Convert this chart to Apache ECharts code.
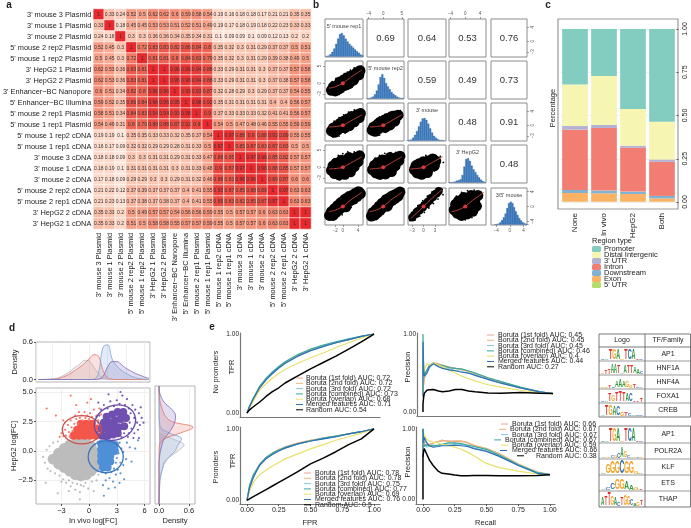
<!DOCTYPE html>
<html>
<head>
<meta charset="utf-8">
<title>Figure</title>
<script src="https://cdn.jsdelivr.net/npm/echarts@6/dist/echarts.min.js"></script>
<style>
  html, body { margin: 0; padding: 0; background: #fff; }
  #chart { width: 691px; height: 528px; }
</style>
</head>
<body>
<div id="chart"></div>
<script>
// ---- panel a: correlation matrix ----
var sampleNames = ["3' mouse 3 Plasmid", "3' mouse 1 Plasmid", "3' mouse 2 Plasmid", "5' mouse 2 rep2 Plasmid", "5' mouse 1 rep2 Plasmid",
  "3' HepG2 1 Plasmid", "3' HepG2 2 Plasmid", "3' Enhancer\u2212BC Nanopore", "5' Enhancer\u2212BC Illumina", "5' mouse 2 rep1 Plasmid",
  "5' mouse 1 rep1 Plasmid", "5' mouse 1 rep2 cDNA", "5' mouse 1 rep1 cDNA", "3' mouse 3 cDNA", "3' mouse 1 cDNA",
  "3' mouse 2 cDNA", "5' mouse 2 rep2 cDNA", "5' mouse 2 rep1 cDNA", "3' HepG2 2 cDNA", "3' HepG2 1 cDNA"];
var corrMatrix = [
  [1, .33, .24, .52, .5, .62, .62, .6, .59, .58, .54, .19, .16, .18, .18, .17, .21, .21, .35, .35],
  [.33, 1, .18, .45, .45, .53, .53, .51, .52, .51, .49, .19, .17, .18, .19, .18, .22, .23, .33, .33],
  [.24, .18, 1, .3, .3, .36, .36, .34, .35, .34, .31, .1, .09, .09, .1, .09, .12, .13, .2, .2],
  [.52, .45, .3, 1, .72, .83, .83, .82, .86, .84, .8, .35, .32, .3, .31, .29, .37, .37, .5, .51],
  [.5, .45, .3, .72, 1, .81, .81, .8, .84, .83, .79, .35, .32, .3, .31, .29, .39, .38, .49, .5],
  [.62, .53, .36, .83, .81, 1, 1, .96, .96, .94, .88, .33, .29, .31, .31, .3, .37, .37, .57, .58],
  [.62, .53, .36, .83, .81, 1, 1, .96, .96, .94, .88, .33, .29, .31, .31, .3, .37, .38, .57, .58],
  [.6, .51, .34, .82, .8, .96, .96, 1, .95, .93, .87, .32, .28, .29, .3, .29, .37, .37, .54, .55],
  [.59, .52, .35, .86, .84, .96, .96, .95, 1, .98, .92, .35, .31, .31, .31, .31, .4, .4, .56, .57],
  [.58, .51, .34, .84, .83, .94, .94, .93, .98, 1, .9, .37, .33, .33, .33, .32, .41, .41, .56, .57],
  [.54, .49, .31, .8, .79, .88, .88, .87, .92, .9, 1, .54, .5, .47, .48, .46, .55, .55, .59, .59],
  [.19, .19, .1, .35, .35, .33, .33, .32, .35, .37, .54, 1, .97, .88, .9, .88, .93, .89, .55, .55],
  [.16, .17, .09, .32, .32, .29, .29, .28, .31, .33, .5, .97, 1, .85, .87, .83, .87, .83, .5, .5],
  [.18, .18, .09, .3, .3, .31, .31, .29, .31, .33, .47, .88, .85, 1, .97, .96, .85, .82, .57, .57],
  [.18, .19, .1, .31, .31, .31, .31, .3, .31, .33, .48, .9, .87, .97, 1, .96, .88, .85, .57, .57],
  [.17, .18, .09, .29, .29, .3, .3, .29, .31, .32, .46, .88, .83, .96, .96, 1, .89, .87, .6, .6],
  [.21, .22, .12, .37, .39, .37, .37, .37, .4, .41, .55, .93, .87, .85, .88, .89, 1, .97, .63, .63],
  [.21, .23, .13, .37, .38, .37, .38, .37, .4, .41, .55, .89, .83, .82, .85, .87, .97, 1, .63, .63],
  [.35, .33, .2, .5, .49, .57, .57, .54, .56, .56, .59, .55, .5, .57, .57, .6, .63, .63, 1, 1],
  [.35, .33, .2, .51, .5, .58, .58, .55, .57, .57, .59, .55, .5, .57, .57, .6, .63, .63, 1, 1]
];

// ---- panel b: pair plot ----
var pairTitles = ["5' mouse rep1", "5' mouse rep2", "3' mouse", "3' HepG2", "3/5' mouse"];
var pairCorr = [[null, .69, .64, .53, .76], [null, null, .59, .49, .73], [null, null, null, .48, .91], [null, null, null, null, .48]];
var histBins = [-4.5, -4, -3.5, -3, -2.5, -2, -1.5, -1, -.5, 0, .5, 1, 1.5, 2, 2.5, 3, 3.5, 4, 4.5, 5];
var hist1 = [1, 2, 5, 10, 17, 27, 38, 48, 50, 45, 38, 32, 27, 23, 19, 15, 11, 8, 4, 2];
var hist2 = [0, 1, 2, 4, 9, 17, 30, 46, 52, 44, 33, 26, 20, 14, 10, 7, 4, 2, 1, 1];
var hist3 = [0, 1, 2, 6, 12, 20, 30, 40, 47, 48, 44, 36, 26, 17, 10, 6, 3, 1, 1, 0];
var hist4 = [0, 0, 1, 2, 4, 5, 7, 16, 34, 50, 52, 46, 36, 28, 22, 16, 11, 6, 3, 1];
var hist5 = [0, 1, 2, 5, 10, 16, 24, 36, 47, 50, 47, 38, 29, 21, 14, 9, 5, 3, 1, 0];

var p21Core = [[-3, -2], [-2.5, -1], [-2, -2.2], [-1.5, -.6], [-1, -1.6], [-.8, .4], [-.3, -.8], [0, 0], [.3, 1], [.5, -.6], [1, .4], [1.2, 1.6], [1.6, -.1], [2, 1], [2.3, 2.2], [2.8, .9], [3.2, 1.9], [3.6, 3], [4.2, 2.4], [4.5, 3.6]];
var p21Stray = [[-3.7, -2.6], [-3.4, -.4], [-2.8, .5], [-1.8, 1.4], [-.5, 2], [.4, 2.8], [1.2, 3.2], [2, 3.8], [3, 4.4], [4.9, 4.9], [4.9, 2], [3.5, .3], [2.5, -.8], [1.5, -1.6], [.2, -2.4], [-1, -3.2]];
var p31Core = [[-3, -1.6], [-2.5, -.8], [-2.2, -2], [-1.6, -.3], [-1.4, -1.4], [-.8, .5], [-.6, -.7], [0, 0], [.2, 1.2], [.5, -.7], [1, .5], [1.2, 1.8], [1.7, -.1], [2.1, 1.1], [2.3, 2.5], [3, 1], [3.2, 2.2], [3.8, 3], [4.3, 2.2], [4.6, 3.4]];
var p31Stray = [[-3.6, -1.8], [-3.2, .2], [-2.3, 1.2], [-1, 2.2], [.2, 3], [1.5, 3.8], [3, 4.4], [4.9, 4.6], [5, 1.5], [3.6, .2], [2.2, -1.2], [.6, -2.2], [-1, -3.1], [-2.6, -3.3]];
var p32Core = [[-3, -1.4], [-2.6, -.5], [-2.2, -1.7], [-1.7, .1], [-1.4, -1.1], [-.9, .9], [-.6, -.5], [0, .2], [.3, 1.5], [.5, -.6], [1, .7], [1.3, 2], [1.8, .1], [2.2, 1.3], [2.5, 2.6], [3.1, 1.2], [3.4, 2.3], [4, 2.9]];
var p32Stray = [[-3.6, -1.3], [-3.2, .2], [-2.2, 1.4], [-1, 2.4], [.4, 3.1], [1.6, 3.6], [3, 4], [4.6, 4.2], [4.8, 2], [3.6, .2], [2.2, -1], [.6, -2], [-1, -2.8]];
var p41Core = [[-3, -.9], [-2.6, .4], [-2.2, -1.8], [-1.8, 1.2], [-1.5, -.5], [-1, -2.2], [-.8, .7], [-.4, 2], [0, -.8], [.1, .5], [.5, -2], [.9, 1.5], [1, -.3], [1.6, 2.8], [1.8, .6], [2, -1.3], [2.6, 1.7], [3, .2], [3.4, 2.8], [4, 1.6], [4.4, 3.3]];
var p41Stray = [[-3.6, -.6], [-3.4, 1.3], [-2.3, 2.4], [-1.2, 3.4], [0, 3.9], [1.3, 4.4], [3, 4.4], [4.9, 4.5], [5, 1.8], [4, -.4], [2.8, -2], [1, -3.2], [-.8, -3.6], [-2.2, -3]];
var p42Core = [[-2.9, -.7], [-2.4, .5], [-2, -1.6], [-1.6, 1.3], [-1.4, -.4], [-.9, -2], [-.6, .8], [-.2, 2.1], [0, -.8], [.3, .6], [.6, -1.9], [1, 1.6], [1.2, -.2], [1.8, 2.8], [2, .7], [2.2, -1.2], [2.8, 1.8], [3.2, .4], [3.6, 2.8], [4.2, 1.9], [4.5, 3.2]];
var p42Stray = [[-3.6, -.4], [-3.2, 1.5], [-2.2, 2.6], [-1, 3.4], [.4, 4], [2, 4.2], [3.4, 4.3], [5.2, 4], [5.3, 2], [4.3, -.2], [3, -1.8], [1.2, -3], [-.8, -3.3], [-2, -2.8]];
var p43Core = [[-2.4, -.7], [-2, .5], [-1.7, -1.6], [-1.2, 1], [-1, -.5], [-.5, -2], [-.4, .3], [0, 1.6], [.3, -.7], [.6, .5], [1, -1.5], [1.2, 1.8], [1.5, 0], [2, 1], [2.4, 2.4], [2.8, .4], [3.2, 1.8]];
var p43Stray = [[-3, -1.2], [-2.8, .8], [-1.8, 1.8], [-.6, 2.8], [.6, 3.4], [1.8, 3.4], [3.2, 3.4], [4.4, 3.1], [5.2, 1.4], [4, .4], [2.8, -1], [1.4, -2.6], [-.2, -3], [-1.4, -2.8]];
var p51Core = [[-3.5, -2.4], [-3, -1.4], [-2.6, -2.4], [-2.2, -.6], [-1.8, -1.6], [-1.4, .2], [-1, -.8], [-.6, 1], [-.3, -.2], [.2, .8], [.5, 1.9], [.8, -.1], [1.2, 1.2], [1.5, 2.6], [2, 1.6], [2.4, 3], [2.8, 2], [3.2, 3.5], [3.7, 2.7], [4.1, 4], [4.6, 3.5]];
var p51Stray = [[-4, -3], [-3.6, -.8], [-2.8, .3], [-2, 1.2], [-1, 2.2], [.2, 3.2], [1.2, 3.9], [2.4, 4.3], [3.6, 4.6], [5, 4.5], [4.9, 2.2], [3.6, 1], [2.2, -.2], [1, -1.2], [-.2, -2.2], [-1.6, -3], [-3, -3.4]];
var p52Core = [[-3.2, -2.6], [-2.8, -1.6], [-2.3, -2.3], [-1.9, -.8], [-1.5, -1.6], [-1.1, .1], [-.7, -.8], [-.3, .9], [0, -.1], [.5, .8], [.8, 1.9], [1.1, .1], [1.5, 1.3], [1.9, 2.5], [2.3, 1.6], [2.7, 3], [3.1, 2.1], [3.6, 3.4], [4, 2.8], [4.5, 3.9]];
var p52Stray = [[-3.8, -3.1], [-3.4, -1], [-2.6, .1], [-1.6, 1.1], [-.6, 2.1], [.6, 3], [1.6, 3.8], [2.8, 4.3], [4, 4.5], [5.2, 4.4], [5.1, 2.6], [3.8, 1.3], [2.4, .1], [1.2, -1], [0, -2], [-1.2, -2.8], [-2.6, -3.5]];
var p53Core = [[-3, -3], [-2.5, -2.3], [-2, -2], [-1.6, -1.3], [-1.1, -1.1], [-.7, -.4], [-.2, -.3], [.2, .4], [.7, .6], [1.1, 1.3], [1.6, 1.6], [2, 2.3], [2.5, 2.6], [3, 3.3], [3.5, 3.6], [4, 4.2]];
var p53Stray = [[-3.6, -3.8], [-3.5, -2.4], [-2.6, -1], [-1.5, .2], [-.2, 1.6], [1, 2.8], [2.2, 3.9], [3.4, 4.6], [4.9, 4.6], [5.1, 3.2], [3.8, 2], [2.6, .8], [1.4, -.4], [.2, -1.6], [-1, -2.6], [-2.2, -3.6]];
var p54Core = [[-3, -.9], [-2.6, .6], [-2.2, -1.8], [-1.8, 1.5], [-1.5, -.4], [-1, -2.4], [-.8, .9], [-.4, 2.4], [0, -.7], [.1, .6], [.5, -2], [.9, 1.7], [1, -.3], [1.6, 3], [1.8, .6], [2, -1.3], [2.6, 1.8], [3, .1], [3.4, 3]];
var p54Stray = [[-3.7, -1.5], [-3.6, 1.2], [-2.4, 2.8], [-1, 3.8], [.6, 4.3], [2.4, 4.4], [3.6, 4], [4.4, 2.2], [4.2, .2], [3.2, -1.6], [1.8, -3], [0, -3.6], [-1.8, -3.2]];
var pairScatter = { '2,1': [p21Core, p21Stray], '3,1': [p31Core, p31Stray], '3,2': [p32Core, p32Stray], '4,1': [p41Core, p41Stray], '4,2': [p42Core, p42Stray],
  '4,3': [p43Core, p43Stray], '5,1': [p51Core, p51Stray], '5,2': [p52Core, p52Stray], '5,3': [p53Core, p53Stray], '5,4': [p54Core, p54Stray] };
var loessSteep = [[-3.7, -1.4], [-2, -1], [0, 0], [2, 1.7], [5, 3.8]];
var loessFlat = [[-3.6, -.5], [-1.5, -.3], [0, 0], [2, 1.2], [5, 3]];
var loessDiag = [[-3.4, -3.2], [-1.5, -1.5], [0, 0], [2, 2], [4.9, 4.6]];

// ---- panel c: region types ----
var groupNames = ['None', 'In vivo', 'HepG2', 'Both'];
var regionTypes = ['Promoter', 'Distal Intergenic', "3' UTR", 'Intron', 'Downstream', 'Exon', "5' UTR"];
var regionColors = ['#82cdc0', '#f6f5b2', '#b4b1d4', '#f27e73', '#80b2d4', '#fbb264', '#b3de69'];
var promoterShare = [.321, .271, .462, .536];
var distalShare = [.24, .284, .213, .218];
var utr3Share = [.021, .017, .012, .014];
var intronShare = [.348, .362, .253, .197];
var downstreamShare = [.018, .016, .014, .014];
var exonShare = [.05, .048, .044, .019];
var utr5Share = [.002, .002, .002, .002];
var regionShares = [promoterShare, distalShare, utr3Share, intronShare, downstreamShare, exonShare, utr5Share];

// ---- panel d: log fold changes ----
var grayCore = [[-3.9, -.7], [-3.3, -.2], [-3.3, -1.1], [-2.7, .2], [-2.7, -.6], [-2.7, -1.4], [-2.1, .5], [-2.1, -.2], [-2.1, -1], [-2.1, -1.7], [-1.5, .6], [-1.5, -.1], [-1.5, -.8], [-1.5, -1.5], [-1.5, -2], [-.9, .6], [-.9, 0], [-.9, -.7], [-.9, -1.4], [-.9, -2.1], [-.3, .6], [-.3, 0], [-.3, -.7], [-.3, -1.4], [-.3, -2], [.2, .4], [.2, -.3], [.2, -1], [.2, -1.7], [.6, -.1], [.6, -.8], [.6, -1.4]];
var graySpread = [[-5, -.5], [-4.8, -1], [-4.6, .1], [-4.5, -1.5], [-4.3, .4], [-4.2, -1.7], [-3.9, .7], [-3.7, -1.9], [-3.4, .8], [-3.2, -2.1], [-3, -2.6], [-2.8, -2.4], [-2.5, -2.7], [-2.2, -2.5], [-2, -3], [-1.8, -2.7], [-1.5, -3.3], [-1.3, -2.8], [-1, -3.5], [-.9, -2.9], [-.6, -3], [-.4, -2.7], [-.1, -3.2], [.3, -2.6], [.5, -3.4], [.8, -2.5], [1, -2], [-2.2, -3.4], [1.2, -1], [1.1, -.3], [1.1, .4], [.9, .8], [-4.7, -2.7], [-3.4, -3.6], [-1, -4.1]];
var redCore = [[-1.7, 1.3], [-1.1, 1.3], [-.5, 1.3], [.1, 1.3], [.7, 1.3], [-1.3, 1.8], [-.7, 1.8], [-.1, 1.8], [.5, 1.8], [-.9, 2.3], [-.3, 2.3], [.3, 2.3], [.9, 1.9]];
var redSpread = [[-3.2, 1.2], [-3, 1.5], [-2.8, 1.25], [-2.6, 1.8], [-2.5, 1.3], [-2.3, 2.2], [-2.2, 1.6], [-2.1, 1.2], [-2, 2.6], [-1.9, 2], [-1.8, 1.7], [-1.6, 2.3], [-1.5, 3], [-1.4, 2.7], [-1.2, 2.3], [-1.1, 3.3], [-1, 2.8], [-.8, 3], [-.7, 2.6], [-.5, 3.3], [-.4, 2.8], [-.2, 3], [0, 2.7], [.1, 3.2], [.3, 2.9], [.5, 3.5], [.6, 2.6], [.8, 3], [1, 2.6], [1.1, 3.6], [1.2, 2.2], [1.3, 1.5], [-.2, 4.1], [-2, 4.7], [.2, 4.4], [-3.6, 3], [-4.6, 3.6], [-1.4, 3.9], [1.3, 3.1], [-2.8, 2.6]];
var blueCore = [[1.3, .6], [1.8, .6], [2.3, .6], [2.8, .5], [1.3, .1], [1.8, .1], [2.3, .1], [2.8, 0], [1.3, -.4], [1.8, -.4], [2.3, -.4], [1.3, -.9], [1.8, -.9], [2.3, -.9], [1.5, -1.4], [2, -1.4]];
var blueSpread = [[3.3, .7], [3.5, .2], [3.2, -.2], [3, -.6], [3.7, -.1], [2.9, -1], [3.4, -1], [2.7, -1.5], [3.1, -1.6], [2.4, -1.8], [1.8, -1.9], [1.4, -1.8], [2.9, -2], [2.2, -2.3], [3.4, -1.9], [3.7, -1.2], [1.8, -2.5], [4, -.7], [4.4, .3], [4.1, .7], [2.6, -2.6], [3.3, -2.7], [1.5, -2.9], [4.6, -.9], [5, .2], [5.3, .9], [2.1, -3.2], [3.8, -2.4], [2.8, -3.1], [1.6, -3.8]];
var purpleCore = [[1.9, 2.9], [2.5, 3.1], [3.1, 3.3], [3.7, 3.3], [1.6, 2.4], [2.2, 2.4], [2.8, 2.6], [3.4, 2.7], [4, 2.8], [1.4, 1.9], [2, 1.8], [2.6, 2], [3.2, 2], [3.8, 2.1], [1.4, 1.3], [2, 1.3], [2.6, 1.4], [3.1, 1.5]];
var purpleSpread = [[.9, 1.6], [1, 2.4], [1.1, 3], [1.3, 3.5], [1.6, 3.9], [2, 3.6], [2.3, 4.2], [2.7, 3.8], [3, 4.3], [3.3, 4], [3.6, 4.7], [3.9, 3.9], [4.1, 4.4], [4.3, 3.6], [4.5, 3.2], [4.7, 3.9], [4.9, 2.8], [5, 3.5], [5.2, 2.4], [5.4, 3.2], [5.5, 2.2], [5.7, 2.8], [4.4, 2.4], [4.6, 1.9], [4.3, 1.5], [4.9, 1.5], [3.8, 1.5], [3.5, 1.2], [4.2, 1.2], [5.3, 1.8], [5.9, 2.4], [1, 4.1], [2.1, 4.8], [3.4, 5], [.8, 2.9], [4.8, 1.1], [5.4, 1.1], [5.6, 3.7]];
var confidenceEllipses = [[-.8, 1.8, 2.1, 1.2, '#c8534f', 0], [2.8, 2.4, 2.3, 1.45, '#6a4aa8', .4], [1.8, -.5, 1.9, 1.35, '#3a74bd', 0]];

var densTopX = [-5.5, -5, -4.5, -4, -3.5, -3, -2.5, -2, -1.5, -1, -.5, 0, .5, 1, 1.5, 2, 2.5, 3, 3.5, 4, 4.5, 5, 5.5, 6, 6.5];
var densTopGray = [0, .002, .005, .01, .02, .05, .09, .14, .2, .25, .31, .3, .2, .1, .03, .005, 0, 0, 0, 0, 0, 0, 0, 0, 0];
var densTopRed = [0, 0, .002, .005, .01, .03, .06, .1, .15, .2, .26, .33, .4, .38, .15, .03, .005, 0, 0, 0, 0, 0, 0, 0, 0];
var densTopBlue = [0, 0, 0, 0, 0, 0, 0, 0, 0, 0, 0, 0, .005, .1, .52, .56, .33, .22, .15, .1, .06, .03, .015, .005, 0];
var densTopPurple = [0, 0, 0, 0, 0, 0, 0, 0, 0, 0, 0, 0, 0, .005, .05, .2, .29, .29, .24, .18, .14, .1, .07, .04, .02];
var densRightY = ['-4.5', '-4', '-3.5', '-3', '-2.5', '-2', '-1.5', '-1', '-0.5', '0', '0.5', '1', '1.5', '2', '2.5', '3', '3.5', '4', '4.5', '5', '5.5'];
var densRightGray = [0, .01, .01, .015, .02, .04, .07, .12, .22, .38, .5, .28, .03, .005, 0, 0, 0, 0, 0, 0, 0];
var densRightBlue = [0, 0, 0, .01, .02, .04, .07, .1, .2, .32, .38, .45, .22, .03, .01, 0, 0, 0, 0, 0, 0];
var densRightRed = [0, 0, 0, 0, 0, 0, 0, 0, 0, 0, .01, .1, .42, .68, .25, .12, .07, .03, .01, 0, 0];
var densRightPurple = [0, 0, 0, 0, 0, 0, 0, 0, .01, .03, .06, .1, .19, .27, .32, .33, .26, .13, .05, .01, 0];

// ---- panel e: classifier curves ----
var modelNames = ['Boruta (1st fold)', 'Boruta (2nd fold)', 'Boruta (3rd fold)', 'Boruta (combined)', 'Boruta (overlap)', 'Merged features', 'Random'];
var modelColors = ['#e8a394', '#e9b67a', '#84c6e2', '#35ab9d', '#e8e16a', '#2f70b3', '#000000'];
var aucNoPromoRoc = ['0.72', '0.72', '0.72', '0.73', '0.68', '0.71', '0.54'];
var aucPromoRoc = ['0.78', '0.78', '0.75', '0.77', '0.69', '0.76', '0.5'];
var aucNoPromoPr = ['0.45', '0.45', '0.45', '0.46', '0.4', '0.44', '0.27'];
var aucPromoPr = ['0.66', '0.67', '0.67', '0.67', '0.59', '0.66', '0.38'];
var rocFpr = [0, .02, .05, .1, .15, .2, .25, .3, .4, .5, .6, .7, .8, .9, 1];
var rocA = [
  [0, .07, .18, .33, .43, .51, .58, .64, .73, .8, .85, .89, .93, .97, 1],
  [0, .07, .17, .32, .42, .51, .58, .64, .73, .8, .85, .89, .93, .97, 1],
  [0, .08, .18, .33, .43, .5, .57, .63, .72, .79, .85, .89, .93, .97, 1],
  [0, .09, .19, .34, .44, .52, .59, .65, .74, .81, .86, .9, .94, .97, 1],
  [0, .06, .15, .29, .37, .44, .5, .55, .63, .7, .76, .83, .89, .95, 1],
  [0, .08, .18, .32, .42, .5, .57, .63, .72, .79, .84, .89, .93, .97, 1],
  [0, .04, .08, .14, .21, .27, .32, .38, .47, .56, .64, .72, .81, .9, 1]
];
var rocB = [
  [0, .18, .34, .51, .6, .66, .71, .75, .8, .84, .87, .9, .93, .96, 1],
  [0, .18, .33, .5, .6, .66, .71, .74, .8, .84, .87, .9, .93, .96, 1],
  [0, .21, .36, .5, .59, .65, .7, .73, .79, .83, .86, .89, .93, .96, 1],
  [0, .2, .35, .5, .6, .66, .7, .74, .79, .83, .87, .9, .93, .96, 1],
  [0, .13, .25, .36, .42, .48, .53, .58, .65, .72, .78, .84, .89, .94, 1],
  [0, .17, .32, .49, .58, .64, .69, .73, .79, .83, .86, .89, .93, .96, 1],
  [0, .02, .05, .1, .15, .2, .25, .3, .4, .51, .59, .68, .78, .86, 1]
];
var prRecall = [0, 0, .005, .01, .03, .05, .08, .12, .15, .2, .25, .3, .35, .4, .5, .6, .75, .9, 1];
var prC = [
  [.2, .3, .35, .42, .52, .6, .63, .62, .6, .58, .56, .55, .52, .5, .44, .39, .31, .26, .237],
  [.2, .32, .36, .44, .53, .59, .62, .61, .59, .57, .56, .54, .52, .49, .43, .38, .31, .26, .237],
  [.2, .5, .4, .46, .5, .57, .62, .58, .57, .55, .53, .52, .5, .48, .42, .37, .31, .26, .237],
  [.22, 1, .6, .48, .54, .6, .63, .6, .6, .57, .56, .55, .53, .5, .44, .39, .32, .26, .237],
  [.2, .45, .5, .55, .62, .6, .63, .6, .58, .54, .5, .46, .43, .4, .35, .32, .28, .25, .237],
  [.2, .9, .55, .46, .5, .58, .62, .58, .56, .54, .53, .51, .5, .47, .42, .37, .31, .26, .237],
  [0, .1, .19, .24, .28, .285, .29, .27, .26, .27, .29, .29, .27, .26, .245, .24, .25, .24, .237]
];
var prD = [
  [.6, .8, .8, .78, .76, .78, .8, .82, .83, .83, .82, .82, .8, .76, .72, .65, .5, .38, .35],
  [.6, .85, .82, .8, .8, .76, .8, .82, .84, .82, .83, .83, .81, .77, .72, .65, .5, .39, .35],
  [.6, .9, .83, .78, .74, .76, .77, .76, .77, .78, .79, .78, .76, .73, .69, .62, .49, .38, .35],
  [.6, 1, .85, .75, .78, .76, .76, .77, .78, .8, .8, .79, .77, .75, .71, .63, .49, .38, .35],
  [.6, .9, .78, .92, .85, .83, .81, .8, .78, .77, .74, .71, .67, .62, .51, .45, .4, .36, .35],
  [.6, 1, .8, .88, .8, .76, .74, .75, .76, .76, .77, .76, .75, .72, .68, .61, .48, .37, .35],
  [0, .6, .68, .72, .64, .56, .48, .4, .37, .36, .345, .335, .335, .34, .34, .335, .335, .34, .35]
];

// ---- motif tables ----
var topFamilies = ['AP1', 'HNF1A', 'HNF4A', 'FOXA1', 'CREB'];
var bottomFamilies = ['AP1', 'POLR2A', 'KLF', 'ETS', 'THAP'];
var logoLettersTop = ['CATGAGTCATC', 'GTTAATAATTAAC', 'GGTCAAAGGTCA', 'CATGTTTACTTT', 'ATGACGTCACC'];
var logoHeightsTop = [
  [.08, .1, .85, .85, .85, .1, .85, .85, .85, .12, .08],
  [.1, .35, .45, .75, .75, .7, .1, .7, .7, .7, .5, .45, .25],
  [.05, .1, .25, .05, .55, .6, .55, .5, .2, .3, .15, .1],
  [.05, .1, .7, .5, .8, .85, .75, .7, .6, .1, .15, .3],
  [.1, .85, .85, .8, .8, .3, .3, .2, .15, .1, .1]
];
var logoLettersBottom = ['CATGAGTCATC', 'AGGCGCAGCAGCG', 'AGGGCGGGA', 'ACCGGAAGT', 'ATTGACTGGCAGT'];
var logoHeightsBottom = [
  [.08, .1, .85, .85, .85, .1, .85, .85, .85, .12, .08],
  [.1, .12, .1, .15, .2, .35, .75, .45, .2, .1, .1, .08, .05],
  [.1, .7, .85, .85, .95, .85, .85, .2, .05],
  [.05, .15, .5, .8, .8, .6, .35, .15, .08],
  [.6, .7, .9, .7, .6, .3, .55, .8, .7, .5, .2, .3, .4]
];
var letterColors = { A: '#2f9a3f', C: '#2e6fb6', G: '#f4a428', T: '#dd3028' };

var fontName = '"Liberation Sans", Arial, sans-serif';
var grids = [], xAxes = [], yAxes = [], series = [], texts = [];

function addGrid(rect, extra) {
  var g = { left: rect[0], top: rect[1], width: rect[2], height: rect[3], show: false, containLabel: false };
  for (var k in extra) g[k] = extra[k];
  grids.push(g);
  return grids.length - 1;
}
function addAxes(gridIndex, xOpt, yOpt) {
  xOpt.gridIndex = gridIndex; yOpt.gridIndex = gridIndex;
  xOpt.nameMoveOverlap = false; yOpt.nameMoveOverlap = false;
  xOpt.axisLine = xOpt.axisLine || { show: false };
  yOpt.axisLine = yOpt.axisLine || { show: false };
  xOpt.axisLine.onZero = false; yOpt.axisLine.onZero = false;
  xAxes.push(xOpt); yAxes.push(yOpt);
  return { xAxisIndex: xAxes.length - 1, yAxisIndex: yAxes.length - 1 };
}
function hidden(min, max) {
  return { type: 'value', min: min, max: max, show: false, splitLine: { show: false } };
}
function addText(x, y, str, opts) {
  opts = opts || {};
  texts.push({
    type: 'text', x: x, y: y, rotation: opts.rotate ? Math.PI / 2 : 0, z: 20,
    style: { text: str, fontSize: opts.size || 8, fontWeight: opts.bold ? 'bold' : 'normal', fontFamily: fontName,
      fill: opts.color || '#222', align: opts.align || 'center', verticalAlign: 'middle' }
  });
}
function minusLabel(digits) {
  return function (v) { return (v < 0 ? '\u2212' : '') + Math.abs(v).toFixed(digits); };
}
// solid dots: outline takes the fill colour so no darker rim shows
function dotStyle(color, opacity) {
  return { color: color, opacity: opacity, borderColor: color, borderWidth: 0, shadowBlur: 0 };
}

addText(9, 5, 'a', { bold: true, size: 10 });
addText(316, 5, 'b', { bold: true, size: 10 });
addText(548, 5, 'c', { bold: true, size: 10 });
addText(12, 328, 'd', { bold: true, size: 10 });
addText(212, 327, 'e', { bold: true, size: 10 });

// panel a
var heatData = [];
corrMatrix.forEach(function (row, r) {
  row.forEach(function (v, c) { heatData.push([c, r, v]); });
});
var heatGrid = addGrid([91, 9, 220, 220]);
var heatAxes = addAxes(heatGrid,
  { type: 'category', data: sampleNames, axisLine: { show: false }, axisTick: { show: false }, splitLine: { show: false },
    axisLabel: { rotate: 90, fontSize: 7.4, color: '#222', margin: 4, interval: 0 } },
  { type: 'category', data: sampleNames, inverse: true, axisLine: { show: false }, axisTick: { show: false }, splitLine: { show: false },
    axisLabel: { fontSize: 7.4, color: '#222', margin: 2, interval: 0 } });
series.push({
  type: 'heatmap', xAxisIndex: heatAxes.xAxisIndex, yAxisIndex: heatAxes.yAxisIndex, data: heatData,
  itemStyle: { borderColor: '#fff', borderWidth: .6 },
  label: { show: true, fontSize: 5, color: '#333', formatter: function (p) { return String(p.value[2]); } },
  emphasis: { disabled: true }
});

// panel b
var pairCols = [[325, 38], [367, 37], [408, 38], [449, 37], [491, 36]];
var pairRows = [[19, 38], [61, 38], [103, 38], [145, 38], [188, 37]];
var colRange = [[-4.7, 5.3], [-4.4, 5.6], [-4.1, 5.9], [-4.4, 5.6], [-5.5, 5]];
var rowRange = [[-4.5, 6.4], [-4.5, 6.4], [-4.5, 6.4], [-4.5, 6.4], [-5, 5]];
var topTicks = { 1: [-4, 0, 5], 3: [-4, 0, 4] };
var bottomTicks = { 0: [-2, 0, 4], 2: [-3, 0, 3], 4: [-4, 0, 4] };
var leftTicks = { 1: [-3, 0, 5], 3: [-3, 0, 5] };
var rightTicks = { 0: [-3, 0, 4], 2: [-3, 0, 4], 4: [-4, 0, 4] };
var histList = [hist1, hist2, hist3, hist4, hist5];

function pairXAxis(c, r) {
  var vals = r === 0 ? topTicks[c] : (r === 4 ? bottomTicks[c] : null);
  return {
    type: 'value', min: colRange[c][0], max: colRange[c][1], position: r === 0 ? 'top' : 'bottom',
    axisLine: { show: false }, splitLine: { show: false }, show: !!vals,
    axisTick: { show: !!vals, length: 2, customValues: vals || [], lineStyle: { color: '#666', width: .6 } },
    axisLabel: { show: !!vals, customValues: vals || [], fontSize: 4.5, color: '#555', margin: 3, formatter: minusLabel(0) }
  };
}
function pairYAxis(c, r) {
  var vals = c === 0 ? leftTicks[r] : (c === 4 ? rightTicks[r] : null);
  return {
    type: 'value', min: rowRange[r][0], max: rowRange[r][1], position: c === 4 ? 'right' : 'left',
    axisLine: { show: false }, splitLine: { show: false }, show: !!vals,
    axisTick: { show: !!vals, length: 2, customValues: vals || [], lineStyle: { color: '#666', width: .6 } },
    axisLabel: { show: !!vals, customValues: vals || [], fontSize: 4.5, color: '#555', margin: 3, rotate: 90, formatter: minusLabel(0) }
  };
}
pairRows.forEach(function (rowBox, r) {
  pairCols.forEach(function (colBox, c) {
    var gi = addGrid([colBox[0], rowBox[0], colBox[1], rowBox[1]], { show: true, borderColor: '#8c8c8c', borderWidth: 1, backgroundColor: '#fff' });
    var axes = addAxes(gi, pairXAxis(c, r), pairYAxis(c, r));
    var cx = colBox[0] + colBox[1] / 2, cy = rowBox[0] + rowBox[1] / 2;
    if (r === c) {
      yAxes.push({ gridIndex: gi, type: 'value', min: -1, max: 80, show: false, splitLine: { show: false } });
      xAxes.push({ gridIndex: gi, type: 'value', min: colRange[c][0], max: colRange[c][1], show: false, splitLine: { show: false } });
      series.push({
        type: 'bar', xAxisIndex: xAxes.length - 1, yAxisIndex: yAxes.length - 1, barWidth: 2,
        itemStyle: { color: '#3b7cc2', borderColor: '#2c5f9e', borderWidth: .3 }, silent: true,
        data: histBins.map(function (b, i) { return [b + .25, histList[r][i]]; })
      });
      addText(cx, rowBox[0] + 7, pairTitles[r], { size: 5.5, color: '#444' });
    } else if (r < c) {
      addText(cx, cy, pairCorr[r][c].toFixed(2), { size: 9.5, color: '#333' });
    } else {
      var key = (r + 1) + ',' + (c + 1);
      var pts = pairScatter[key];
      series.push({ type: 'scatter', xAxisIndex: axes.xAxisIndex, yAxisIndex: axes.yAxisIndex, data: pts[0], symbolSize: key === '5,3' ? 8 : 11, itemStyle: dotStyle('#000', 1), silent: true });
      series.push({ type: 'scatter', xAxisIndex: axes.xAxisIndex, yAxisIndex: axes.yAxisIndex, data: pts[1], symbolSize: 1.8, itemStyle: dotStyle('#000', 1), silent: true });
      var loess = key === '5,3' ? loessDiag : (r === 4 || c === 0 && r === 1 ? loessSteep : loessFlat);
      series.push({ type: 'line', xAxisIndex: axes.xAxisIndex, yAxisIndex: axes.yAxisIndex, data: loess, showSymbol: false, smooth: .3, lineStyle: { color: '#c9473f', width: .9 }, silent: true });
      series.push({ type: 'scatter', xAxisIndex: axes.xAxisIndex, yAxisIndex: axes.yAxisIndex, data: [[0, 0]], symbolSize: 4, itemStyle: dotStyle('#e0303a', 1), silent: true });
    }
  });
});

// panel c
var frameC = addGrid([558, 19, 120, 190], { show: true, borderColor: '#999', borderWidth: 1.2, backgroundColor: '#fff' });
addAxes(frameC, hidden(0, 1), hidden(0, 1));
var plotC = addGrid([560.5, 29, 116, 173]);
var axesC = addAxes(plotC,
  { type: 'category', data: groupNames, axisLine: { show: false }, axisTick: { show: false }, splitLine: { show: false },
    axisLabel: { rotate: 90, fontSize: 8, color: '#222', margin: 11, interval: 0 } },
  { type: 'value', min: 0, max: 1, interval: .25, position: 'right', axisLine: { show: false }, axisTick: { show: true, length: 2, lineStyle: { color: '#555' } },
    splitLine: { show: true, lineStyle: { color: '#ebebeb', width: .8 } }, axisLabel: { rotate: 90, fontSize: 7, color: '#222', margin: 5, formatter: function (v) { return v.toFixed(2); } } });
// stacked bottom-up, so the last region type in the key sits on the axis
for (var ri = regionTypes.length - 1; ri >= 0; ri--) {
  series.push({
    name: regionTypes[ri], type: 'bar', stack: 'regions', xAxisIndex: axesC.xAxisIndex, yAxisIndex: axesC.yAxisIndex,
    data: regionShares[ri], barWidth: 25.7, itemStyle: { color: regionColors[ri] }, silent: true, legendHoverLink: false
  });
}
addText(553, 108, 'Percentage', { rotate: true, size: 7.5 });
texts.push({ type: 'text', x: 592, y: 241, z: 20, style: { text: 'Region type', fontSize: 7.5, fontFamily: fontName, fill: '#222', verticalAlign: 'middle' } });

// panel d
var xRangeD = [-5.76, 6.6], yRangeD = [-4.5, 5.34];
var gridLineD = { show: true, lineStyle: { color: '#eaeaea', width: .7 } };
var mainD = addGrid([36, 388, 114, 116], { show: true, borderColor: '#b4b4b4', borderWidth: 1, backgroundColor: '#fff' });
var axesD = addAxes(mainD,
  { type: 'value', min: xRangeD[0], max: xRangeD[1], axisLine: { show: false }, axisTick: { show: true, length: 2, customValues: [-3, 0, 3, 6] }, splitLine: gridLineD,
    axisLabel: { customValues: [-3, 0, 3, 6], fontSize: 7.5, color: '#222', margin: 3, formatter: minusLabel(0) },
    name: 'In vivo log[FC]', nameLocation: 'middle', nameGap: 13, nameTextStyle: { fontSize: 7.5, color: '#222' } },
  { type: 'value', min: yRangeD[0], max: yRangeD[1], axisLine: { show: false }, axisTick: { show: true, length: 2, customValues: [-2.5, 0, 2.5, 5] }, splitLine: gridLineD,
    axisLabel: { customValues: [-2.5, 0, 2.5, 5], fontSize: 7.5, color: '#222', margin: 3, formatter: minusLabel(1) },
    name: 'HepG2 log[FC]', nameLocation: 'middle', nameGap: 18, nameTextStyle: { fontSize: 7.5, color: '#222' } });
function cloud(data, size, color, opacity) {
  series.push({ type: 'scatter', xAxisIndex: axesD.xAxisIndex, yAxisIndex: axesD.yAxisIndex, data: data, symbolSize: size, itemStyle: dotStyle(color, opacity), silent: true });
}
cloud(grayCore, 11, '#bcbcbc', 1);
cloud(graySpread, 2.2, '#bcbcbc', 1);
cloud(redCore, 8, '#f4574a', 1);
cloud(redSpread, 2.2, '#f4786c', 1);
cloud(blueCore, 8, '#4f8fd6', 1);
cloud(blueSpread, 2.2, '#5f93d0', 1);
cloud(purpleCore, 8, '#6f4fb0', 1);
cloud(purpleSpread, 2.2, '#7557b4', 1);
series.push({
  type: 'custom', xAxisIndex: axesD.xAxisIndex, yAxisIndex: axesD.yAxisIndex, silent: true, z: 5, data: confidenceEllipses,
  renderItem: function (params, api) {
    var p = api.coord([api.value(0), api.value(1)]);
    var size = api.size([api.value(2), api.value(3)]);
    var item = confidenceEllipses[params.dataIndex];
    return {
      type: 'ellipse', x: p[0], y: p[1], rotation: item[5],
      shape: { cx: 0, cy: 0, rx: size[0], ry: size[1] },
      style: { fill: null, stroke: item[4], lineWidth: 1.3 }
    };
  }
});

var densColors = { gray: '#b8b8b8', red: '#e8726a', blue: '#7ca4da', purple: '#7d68b4' };
var topD = addGrid([36, 342, 114, 40], { show: true, borderColor: '#b4b4b4', borderWidth: 1, backgroundColor: '#fff' });
var axesTop = addAxes(topD,
  { type: 'value', min: xRangeD[0], max: xRangeD[1], axisLine: { show: false }, axisTick: { show: false }, axisLabel: { show: false }, splitLine: gridLineD },
  { type: 'value', min: -.04, max: .605, axisLine: { show: false }, axisTick: { show: true, length: 2, customValues: [0, .6] }, splitLine: { show: false },
    axisLabel: { customValues: [0, .6], fontSize: 7.5, color: '#222', margin: 3, formatter: function (v) { return v.toFixed(1); } },
    name: 'Density', nameLocation: 'middle', nameGap: 17, nameTextStyle: { fontSize: 7.5, color: '#222' } });
[[densTopGray, 'gray'], [densTopRed, 'red'], [densTopBlue, 'blue'], [densTopPurple, 'purple']].forEach(function (d) {
  series.push({
    type: 'line', xAxisIndex: axesTop.xAxisIndex, yAxisIndex: axesTop.yAxisIndex, showSymbol: false, smooth: .4, silent: true,
    data: densTopX.map(function (x, i) { return [x, d[0][i]]; }),
    lineStyle: { color: densColors[d[1]], width: .8 }, areaStyle: { color: densColors[d[1]], opacity: .22 }
  });
});
var rightD = addGrid([155, 386, 40, 118], { show: true, borderColor: '#b4b4b4', borderWidth: 1, backgroundColor: '#fff' });
var axesRight = addAxes(rightD,
  { type: 'value', min: -.08, max: .72, axisLine: { show: false }, axisTick: { show: true, length: 2, customValues: [0, .6] }, splitLine: gridLineD,
    axisLabel: { customValues: [0, .6], fontSize: 7.5, color: '#222', margin: 3, formatter: function (v) { return v.toFixed(1); } },
    name: 'Density', nameLocation: 'middle', nameGap: 13, nameTextStyle: { fontSize: 7.5, color: '#222' } },
  { type: 'category', data: densRightY, boundaryGap: false, axisLine: { show: false }, axisTick: { show: false }, axisLabel: { show: false }, splitLine: { show: false } });
[[densRightGray, 'gray'], [densRightBlue, 'blue'], [densRightRed, 'red'], [densRightPurple, 'purple']].forEach(function (d) {
  series.push({
    type: 'line', xAxisIndex: axesRight.xAxisIndex, yAxisIndex: axesRight.yAxisIndex, showSymbol: false, smooth: .4, silent: true,
    data: d[0], lineStyle: { color: densColors[d[1]], width: .8 }, areaStyle: { color: densColors[d[1]], opacity: .22 }
  });
});

// panel e
function curvePanel(rect, xRange, yRange, xVals, curves, showX, xName) {
  var gi = addGrid(rect);
  var axes = addAxes(gi,
    { type: 'value', min: xRange[0], max: xRange[1], splitLine: { show: false }, axisLine: { show: true, lineStyle: { color: '#777', width: 1.2 } },
      axisTick: { show: showX, length: 2, customValues: [0, .25, .5, .75, 1], lineStyle: { color: '#555' } },
      axisLabel: { show: showX, customValues: [0, .25, .5, .75, 1], fontSize: 7, color: '#222', margin: 3, formatter: function (v) { return v.toFixed(2); } },
      name: xName, nameLocation: 'middle', nameGap: 15, nameTextStyle: { fontSize: 7.5, color: '#222' } },
    { type: 'value', min: yRange[0], max: yRange[1], splitLine: { show: false }, axisLine: { show: true, lineStyle: { color: '#777', width: 1.2 } },
      axisTick: { show: false }, axisLabel: { customValues: [0, 1], fontSize: 6.5, color: '#222', margin: 1, formatter: function (v) { return v.toFixed(2); } } });
  curves.forEach(function (vals, i) {
    series.push({
      type: 'line', xAxisIndex: axes.xAxisIndex, yAxisIndex: axes.yAxisIndex, showSymbol: false, silent: true,
      data: xVals.map(function (x, j) { return [x, vals[j]]; }),
      lineStyle: { color: modelColors[i], width: i === 6 ? 1.5 : 1.2 }
    });
  });
}
curvePanel([240, 333, 140, 84], [-.055, 1.047], [-.05, 1.013], rocFpr, rocA, false, '');
curvePanel([240, 427, 140, 83], [-.055, 1.047], [-.052, 1.026], rocFpr, rocB, true, 'FPR');
curvePanel([417, 333, 143, 83], [-.046, 1.054], [-.05, 1.013], prRecall, prC, false, '');
curvePanel([416, 427, 139, 84], [-.055, 1.04], [-.065, 1.026], prRecall, prD, true, 'Recall');

addText(216, 372, 'No promoters', { rotate: true, size: 7 });
addText(232, 367, 'TPR', { rotate: true, size: 7.5 });
addText(216, 467, 'Promoters', { rotate: true, size: 7 });
addText(233, 461, 'TPR', { rotate: true, size: 7.5 });
addText(408, 367, 'Precision', { rotate: true, size: 7.5 });
addText(408, 462, 'Precision', { rotate: true, size: 7.5 });

// curve keys
function curveKey(textX, keyX, firstY, aucs, step) {
  modelNames.forEach(function (name, i) {
    var y = firstY + i * step;
    var tx = Array.isArray(textX) ? textX[i] : textX;
    var kx = Array.isArray(keyX) ? keyX[i] : keyX;
    texts.push({ type: 'line', z: 19, shape: { x1: kx, y1: y, x2: kx + 7, y2: y }, style: { stroke: modelColors[i], lineWidth: 1 } });
    addText(tx, y, name + ' AUC: ' + aucs[i], { align: 'left', size: 7 });
  });
}
curveKey(306, 296, 378, aucNoPromoRoc, 5.3);
curveKey(315, 304, 473, aucPromoRoc, 5.3);
curveKey(498, 487, 335, aucNoPromoPr, 5.3);
curveKey([512, 510, 512, 505, 512, 512, 536], [501, 499, 501, 494, 501, 500, 517], 424, aucPromoPr, 5.3);

// motif tables
var rowsTop = [347, 361, 375, 389, 403, 417];
var rowsBottom = [426, 443, 459, 475, 491, 507];
function drawTable(rowEdges, families, letters, heights) {
  var left = 599, mid = 645, right = 690.5;
  rowEdges.forEach(function (y, i) {
    var outer = i === 0 || i === rowEdges.length - 1;
    texts.push({ type: 'line', z: 15, shape: { x1: left, y1: y, x2: right, y2: y }, style: { stroke: outer ? '#666' : '#999', lineWidth: outer ? .9 : 1.2 } });
  });
  [left, mid, right].forEach(function (x) {
    texts.push({ type: 'line', z: 15, shape: { x1: x, y1: rowEdges[0], x2: x, y2: rowEdges[rowEdges.length - 1] }, style: { stroke: '#666', lineWidth: .9 } });
  });
  families.forEach(function (name, i) {
    addText(668, (rowEdges[i] + rowEdges[i + 1]) / 2, name, { size: 7, color: '#222' });
    var box = [601, rowEdges[i] + 1, 42, rowEdges[i + 1] - rowEdges[i] - 2];
    var gi = addGrid(box);
    var ax = addAxes(gi, hidden(0, letters[i].length), hidden(0, 1));
    var word = letters[i];
    series.push({
      type: 'custom', xAxisIndex: ax.xAxisIndex, yAxisIndex: ax.yAxisIndex, silent: true,
      data: heights[i].map(function (h, j) { return [j + .5, h]; }),
      renderItem: function (params, api) {
        var p = api.coord([api.value(0), 0]);
        var s = api.size([1, api.value(1)]);
        var ch = word.charAt(params.dataIndex);
        // font is 10px: cap height about 7.2, width about 7.2
        var sy = s[1] / 7.2, sx = s[0] / 7;
        return {
          type: 'text', x: p[0], y: p[1] + 1.6 * sy, scaleX: sx, scaleY: sy,
          style: { text: ch, fontSize: 10, fontWeight: 'bold', fontFamily: fontName, fill: letterColors[ch], align: 'center', verticalAlign: 'bottom' }
        };
      }
    });
  });
}
addText(622, 340.5, 'Logo', { size: 7, color: '#222' });
addText(668, 340.5, 'TF/Family', { size: 7, color: '#222' });
texts.push({ type: 'line', z: 15, shape: { x1: 599, y1: 334, x2: 690.5, y2: 334 }, style: { stroke: '#666', lineWidth: .9 } });
[599, 645, 690.5].forEach(function (x) {
  texts.push({ type: 'line', z: 15, shape: { x1: x, y1: 334, x2: x, y2: 347 }, style: { stroke: '#666', lineWidth: .9 } });
});
drawTable(rowsTop, topFamilies, logoLettersTop, logoHeightsTop);
drawTable(rowsBottom, bottomFamilies, logoLettersBottom, logoHeightsBottom);

var chart = echarts.init(document.getElementById('chart'), null, { renderer: 'canvas' });
chart.setOption({
  animation: false,
  backgroundColor: '#fff',
  textStyle: { fontFamily: fontName },
  grid: grids,
  xAxis: xAxes,
  yAxis: yAxes,
  visualMap: {
    show: false, type: 'continuous', min: 0, max: 1, seriesIndex: 0, dimension: 2,
    inRange: { color: ['#fff1ea', '#fcd0bd', '#f7a088', '#f0725a', '#e8282c'] }
  },
  legend: {
    data: regionTypes, orient: 'vertical', left: 592, top: 245, itemWidth: 9, itemHeight: 6, itemGap: -2,
    selectedMode: false, padding: 0, itemStyle: { borderWidth: 0 },
    textStyle: { fontSize: 7.5, color: '#222', padding: [0, 0, 0, -2] }
  },
  series: series,
  graphic: { elements: texts }
});
</script>
</body>
</html>
